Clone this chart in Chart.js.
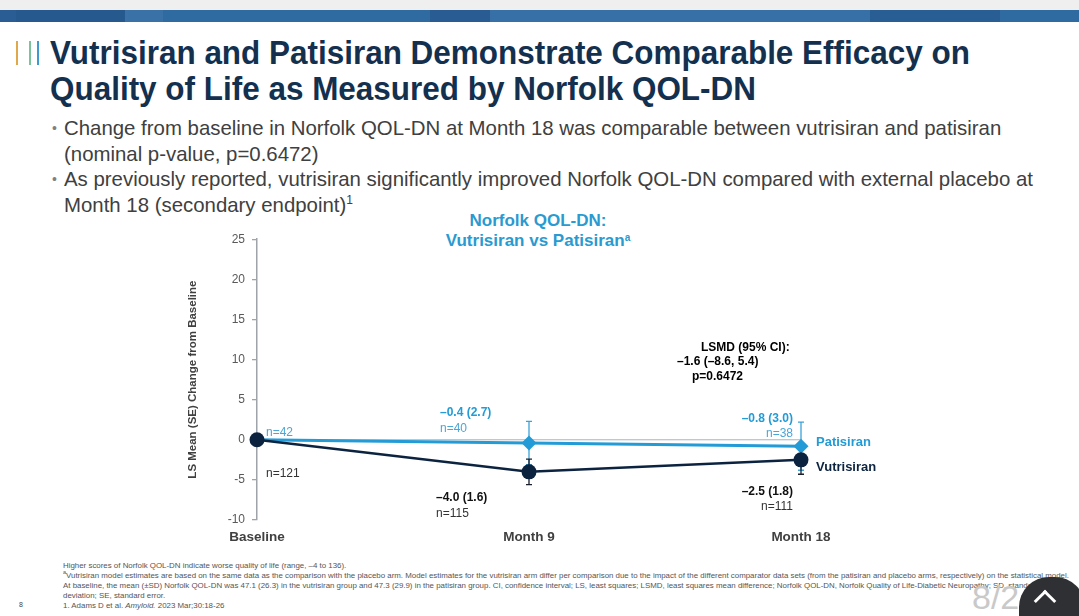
<!DOCTYPE html>
<html>
<head>
<meta charset="utf-8">
<script src="https://cdn.jsdelivr.net/npm/chart.js@4"></script>
<style>
  body { margin: 0; background: #fff; font-family: 'Liberation Sans', Arial, sans-serif; }
  #slide { position: relative; width: 1079px; height: 616px; overflow: hidden; background: #fff; }
  #topgray { position: absolute; left: 0; top: 0; width: 1079px; height: 10px; background: #efefef; }
  #topband { position: absolute; left: 0; top: 10px; width: 1079px; height: 12px;
    background: linear-gradient(90deg, #2a5d94 0, #2a5d94 16px, #265a8f 16px, #265a8f 125px, #3a72a8 125px, #3a72a8 163px, #2f6aa0 163px, #2f6aa0 430px, #285c92 430px, #285c92 490px, #3670a6 490px, #3670a6 870px, #295e94 870px, #295e94 1000px, #2f6aa0 1000px); }
  .bar { position: absolute; top: 41px; width: 2px; height: 24px; }
  #title { position: absolute; left: 50px; top: 34px; font-size: 34px; font-weight: bold; color: #14304f; line-height: 36px; white-space: nowrap; transform: scaleX(0.925); transform-origin: 0 0; }
  #bullets { position: absolute; left: 52px; top: 116px; font-size: 20.4px; color: #404040; line-height: 25.5px; }
  #bullets div { position: relative; padding-left: 12px; white-space: nowrap; }
  #bullets div::before { content: '\2022'; position: absolute; left: 0; top: 0; font-size: 14px; color: #808080; }
  #bullets sup { font-size: 12px; line-height: 0; }
  #ctitle { position: absolute; left: 388px; width: 300px; top: 211px; text-align: center; font-size: 17px; font-weight: bold; color: #2a9ad0; line-height: 20px; }
  #ctitle sup { font-size: 10px; vertical-align: 5px; line-height: 0; }
  #wrap { position: absolute; left: 180px; top: 225px; width: 700px; height: 330px; }
  #foot { position: absolute; left: 63px; top: 561px; font-size: 7.9px; color: #555; line-height: 10px; white-space: nowrap; }
  #foot sup { line-height: 0; font-size: 5.5px; }
  #pgnum { position: absolute; left: 19px; top: 601px; font-size: 7px; color: #444; }
  #pgbig { position: absolute; left: 972px; top: 578px; font-size: 34px; color: #c9c9c9; }
  #btn { position: absolute; left: 1019px; top: 577px; width: 66px; height: 70px; border-radius: 30px; background: #2f3033; }
  #btn span { position: absolute; left: 18px; top: 16px; width: 13px; height: 13px; border-left: 3px solid #fff; border-top: 3px solid #fff; transform: rotate(45deg); }
</style>
</head>
<body>
<div id="slide">
  <div id="topgray"></div>
  <div id="topband"></div>
  <div class="bar" style="left:16px;background:#e0a84a"></div>
  <div class="bar" style="left:29px;background:#7cc29a"></div>
  <div class="bar" style="left:37px;background:#3d9bd0"></div>
  <div id="title">Vutrisiran and Patisiran Demonstrate Comparable Efficacy on<br>Quality of Life as Measured by Norfolk QOL-DN</div>
  <div id="bullets">
    <div>Change from baseline in Norfolk QOL-DN at Month 18 was comparable between vutrisiran and patisiran<br>(nominal p-value, p=0.6472)</div>
    <div>As previously reported, vutrisiran significantly improved Norfolk QOL-DN compared with external placebo at<br>Month 18 (secondary endpoint)<sup>1</sup></div>
  </div>
  <div id="ctitle">Norfolk QOL-DN:<br>Vutrisiran vs Patisiran<sup>a</sup></div>
  <div id="wrap"><canvas id="qolChart"></canvas></div>
  <div id="foot">
    Higher scores of Norfolk QOL-DN indicate worse quality of life (range, &#8211;4 to 136).<br>
    <sup>a</sup>Vutrisiran model estimates are based on the same data as the comparison with the placebo arm. Model estimates for the vutrisiran arm differ per comparison due to the impact of the different comparator data sets (from the patisiran and placebo arms, respectively) on the statistical model.<br>
    At baseline, the mean (&#177;SD) Norfolk QOL-DN was 47.1 (26.3) in the vutrisiran group and 47.3 (29.9) in the patisiran group. CI, confidence interval; LS, least squares; LSMD, least squares mean difference; Norfolk QOL-DN, Norfolk Quality of Life-Diabetic Neuropathy; SD, standard<br>
    deviation; SE, standard error.<br>
    1. Adams D et al. <i>Amyloid.</i> 2023 Mar;30:18-26
  </div>
  <div id="pgnum">8</div>
  <div id="pgbig">8/2</div>
  <div id="btn"><span></span></div>
</div>
<script>
// visits
const visits = ['Baseline', 'Month 9', 'Month 18'];
// LS mean change from baseline and SE
const vutrisiranMean = [0, -4.0, -2.5];
const vutrisiranSE = [null, 1.6, 1.8];
const vutrisiranN = [121, 115, 111];
const patisiranMean = [0, -0.4, -0.8];
const patisiranSE = [null, 2.7, 3.0];
const patisiranN = [42, 40, 38];
const zeroRef = [0, 0, 0];
// LSMD at month 18
const lsmd = { diff: -1.6, lo: -8.6, hi: 5.4, p: '0.6472' };

const VUT = '#0c2340';
const PAT = '#229bd6';
const FONT = "'Liberation Sans', Arial, sans-serif";

function fmt(v) {
    return (v < 0 ? '\u2013' : '') + Math.abs(v).toFixed(1);
}

// error bars, drawn under the markers
const errorBars = {
    id: 'errorBars',
    beforeDatasetsDraw(chart) {
        const ctx = chart.ctx, x = chart.scales.x, y = chart.scales.y;
        const sets = [[patisiranMean, patisiranSE, '#3aa3d8'], [vutrisiranMean, vutrisiranSE, '#1a1f2e']];
        ctx.save();
        ctx.lineWidth = 1.3;
        sets.forEach(([m, se, col]) => {
            ctx.strokeStyle = col;
            m.forEach((v, i) => {
                if (se[i] == null) return;
                const px = x.getPixelForValue(i);
                const top = y.getPixelForValue(v + se[i]);
                const bot = y.getPixelForValue(v - se[i]);
                ctx.beginPath();
                ctx.moveTo(px, top); ctx.lineTo(px, bot);
                ctx.moveTo(px - 3, top); ctx.lineTo(px + 3, top);
                ctx.moveTo(px - 3, bot); ctx.lineTo(px + 3, bot);
                ctx.stroke();
            });
        });
        ctx.restore();
    }
};

// value / n labels and LSMD box
const labelsPlugin = {
    id: 'labelsPlugin',
    afterDatasetsDraw(chart) {
        const ctx = chart.ctx, x = chart.scales.x, y = chart.scales.y;
        const bold = s => 'bold ' + s + 'px ' + FONT;
        const norm = s => s + 'px ' + FONT;
        function txt(t, px, py, font, col, align) {
            ctx.font = font; ctx.fillStyle = col; ctx.textAlign = align || 'left'; ctx.textBaseline = 'middle';
            ctx.fillText(t, px, py);
        }
        ctx.save();
        const x0 = x.getPixelForValue(0), x1 = x.getPixelForValue(1), x2 = x.getPixelForValue(2);
        // baseline
        txt('n=' + patisiranN[0], x0 + 9, y.getPixelForValue(patisiranMean[0]) - 7, norm(12), '#4aa6d6');
        txt('n=' + vutrisiranN[0], x0 + 9, y.getPixelForValue(vutrisiranMean[0]) + 34, norm(12), '#333');
        // month 9
        let pp = y.getPixelForValue(patisiranMean[1]), vp = y.getPixelForValue(vutrisiranMean[1]);
        txt(fmt(patisiranMean[1]) + ' (' + patisiranSE[1].toFixed(1) + ')', x1 - 89, pp - 30, bold(12), PAT);
        txt('n=' + patisiranN[1], x1 - 89, pp - 14, norm(12), '#4aa6d6');
        txt(fmt(vutrisiranMean[1]) + ' (' + vutrisiranSE[1].toFixed(1) + ')', x1 - 93, vp + 26, bold(12), '#111');
        txt('n=' + vutrisiranN[1], x1 - 93, vp + 42, norm(12), '#333');
        // month 18
        pp = y.getPixelForValue(patisiranMean[2]); vp = y.getPixelForValue(vutrisiranMean[2]);
        txt(fmt(patisiranMean[2]) + ' (' + patisiranSE[2].toFixed(1) + ')', x2 - 8, pp - 28, bold(12), PAT, 'right');
        txt('n=' + patisiranN[2], x2 - 8, pp - 13, norm(12), '#4aa6d6', 'right');
        txt(fmt(vutrisiranMean[2]) + ' (' + vutrisiranSE[2].toFixed(1) + ')', x2 - 8, vp + 32, bold(12), '#111', 'right');
        txt('n=' + vutrisiranN[2], x2 - 8, vp + 47, norm(12), '#333', 'right');
        // series names
        txt('Patisiran', x2 + 15, pp - 4, bold(13), PAT);
        txt('Vutrisiran', x2 + 15, vp + 8, bold(13), VUT);
        // LSMD
        const ly = y.getPixelForValue(11.5);
        txt('LSMD (95% CI):', x2 - 100, ly, bold(12), '#000');
        txt(fmt(lsmd.diff) + ' (' + fmt(lsmd.lo) + ', ' + lsmd.hi.toFixed(1) + ')', x2 - 124, ly + 14, bold(12), '#000');
        txt('p=' + lsmd.p, x2 - 109, ly + 29, bold(12), '#000');
        ctx.restore();
    }
};

const ctx = document.getElementById('qolChart').getContext('2d');
new Chart(ctx, {
    type: 'line',
    data: {
        labels: visits,
        datasets: [{
            label: 'Vutrisiran',
            data: vutrisiranMean,
            borderColor: VUT,
            backgroundColor: VUT,
            borderWidth: 2.5,
            pointRadius: 7.5,
            pointBorderWidth: 0,
            pointBackgroundColor: VUT,
            clip: false,
            order: 1
        }, {
            label: 'Patisiran',
            data: patisiranMean,
            borderColor: PAT,
            backgroundColor: PAT,
            borderWidth: 3,
            pointStyle: 'rectRot',
            pointRadius: [0, 7.5, 7.5],
            pointBorderWidth: 0,
            pointBackgroundColor: PAT,
            clip: false,
            order: 2
        }, {
            label: 'ref',
            data: zeroRef,
            borderColor: '#a9b3bd',
            borderWidth: 1,
            pointRadius: 0,
            clip: false,
            order: 3
        }]
    },
    options: {
        responsive: true,
        maintainAspectRatio: false,
        animation: false,
        layout: { padding: { top: 10, right: 79, left: 0, bottom: 0 } },
        plugins: {
            legend: { display: false },
            tooltip: { enabled: false }
        },
        scales: {
            x: {
                offset: false,
                grid: { display: false },
                border: { display: false },
                ticks: {
                    padding: 1,
                    color: '#404040',
                    font: { family: FONT, size: 13.5, weight: 'bold' }
                },
                afterFit: function (s) { s.height = 35; }
            },
            y: {
                min: -10,
                max: 25,
                ticks: {
                    stepSize: 5,
                    padding: 7,
                    color: '#595959',
                    font: { family: FONT, size: 12 }
                },
                grid: { drawOnChartArea: false, tickLength: 5, color: '#9ea4aa', lineWidth: 1.3 },
                border: { color: '#9ea4aa', width: 1.5 },
                title: {
                    display: true,
                    text: 'LS Mean (SE) Change from Baseline',
                    color: '#404040',
                    padding: 6,
                    font: { family: FONT, size: 11.5, weight: 'bold' }
                },
                afterFit: function (s) { s.width = 77; }
            }
        }
    },
    plugins: [errorBars, labelsPlugin]
});
</script>
</body>
</html>
